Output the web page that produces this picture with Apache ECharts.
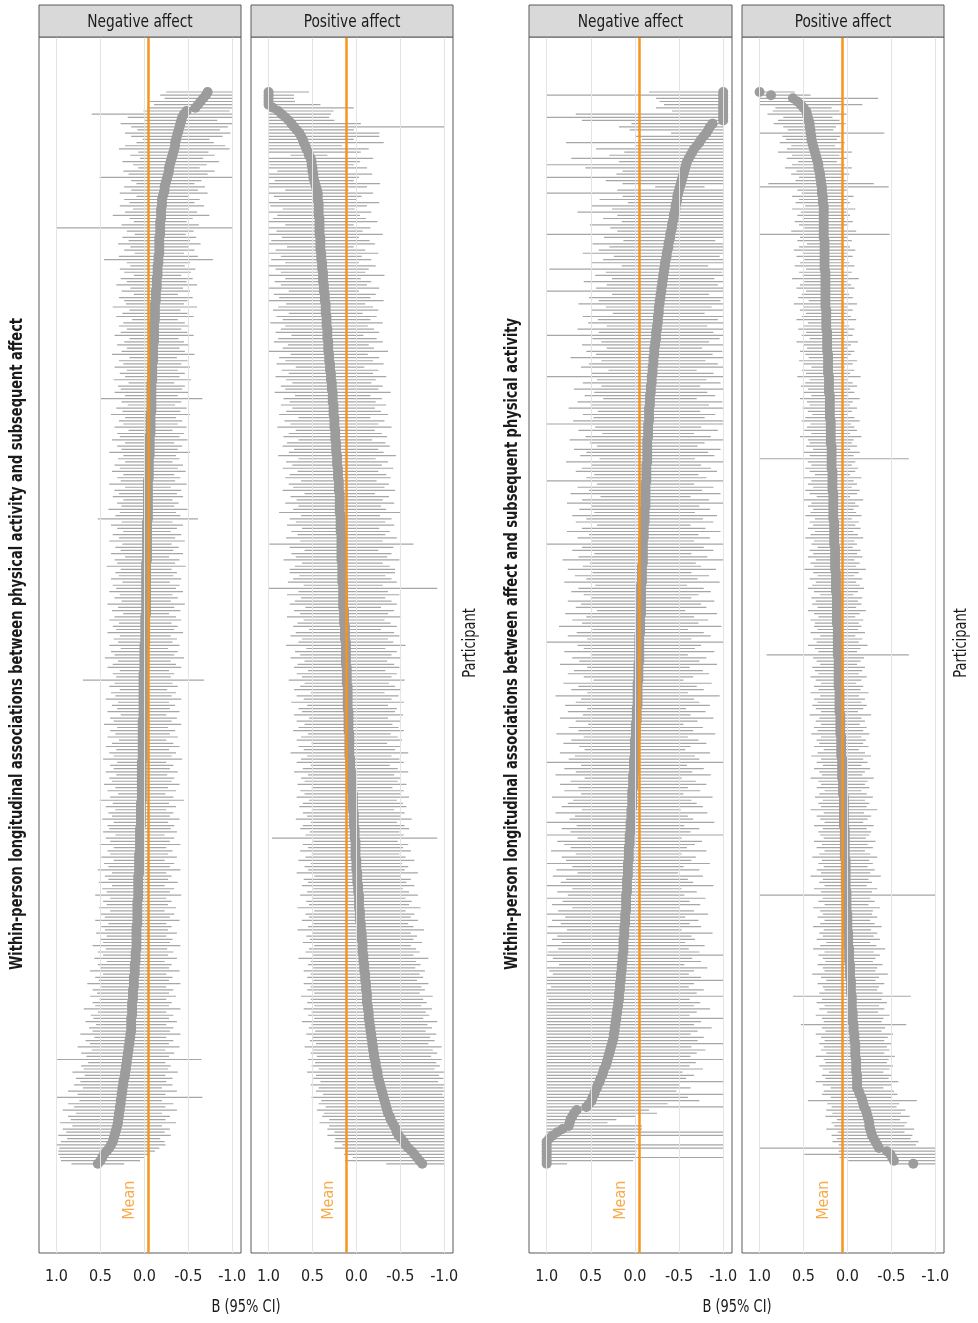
<!DOCTYPE html>
<html>
<head>
<meta charset="utf-8">
<script src="https://cdn.jsdelivr.net/npm/echarts@6/dist/echarts.min.js"></script>
<style>
  html, body { margin: 0; padding: 0; background: #fff; }
  #chart { width: 978px; height: 1323px; }
</style>
</head>
<body>
<div id="chart"></div>
<script>
// facet strips, axis titles, ticks
const facetLabels = ['Negative affect', 'Positive affect', 'Negative affect', 'Positive affect'];
const yTitles = [
  'Within-person longitudinal associations between physical activity and subsequent affect',
  'Within-person longitudinal associations between affect and subsequent physical activity'
];
const xTitle = 'B (95% CI)';
const rowTitle = 'Participant';
const bTicks = [1.0, 0.5, 0.0, -0.5, -1.0];
const meanB = [-0.04, 0.11, -0.05, 0.06];

// participant estimates (top row first) and CI half-widths
// panel 1: physical activity -> negative affect
const negPaEst = [
  -0.72, -0.70, -0.67, -0.64, -0.61, -0.58, -0.48, -0.45,
  -0.43, -0.42, -0.41, -0.40, -0.39, -0.38, -0.37,
  -0.36, -0.35, -0.35, -0.34, -0.33, -0.32, -0.31,
  -0.30, -0.29, -0.28, -0.28, -0.27, -0.26, -0.25,
  -0.24, -0.23, -0.23, -0.22, -0.21, -0.20, -0.20,
  -0.20, -0.19, -0.19, -0.19, -0.19, -0.18, -0.18, -0.18, -0.18, -0.18, -0.17, -0.17, -0.17, -0.17, -0.17,
  -0.17, -0.16, -0.16, -0.16, -0.15, -0.15, -0.15, -0.15, -0.14, -0.14, -0.14, -0.14, -0.13, -0.13, -0.13, -0.13,
  -0.12, -0.12, -0.12, -0.12, -0.12, -0.12, -0.11, -0.11, -0.11, -0.11, -0.11, -0.11, -0.11,
  -0.10, -0.10, -0.10, -0.10, -0.10, -0.10, -0.09, -0.09, -0.09, -0.09, -0.09, -0.09,
  -0.08, -0.08, -0.08, -0.08, -0.08, -0.08,
  -0.08, -0.08, -0.08, -0.08, -0.07, -0.07, -0.07, -0.07, -0.07, -0.07, -0.07,
  -0.06, -0.06, -0.06, -0.06, -0.06, -0.06, -0.06, -0.05, -0.05, -0.05, -0.05, -0.05, -0.05, -0.05,
  -0.04, -0.04, -0.04, -0.04, -0.04, -0.04, -0.04,
  -0.04, -0.04, -0.04, -0.04, -0.04, -0.04,
  -0.03, -0.03, -0.03, -0.03, -0.03, -0.03, -0.03, -0.03, -0.03, -0.03, -0.03, -0.03, -0.03,
  -0.02, -0.02, -0.02, -0.02, -0.02, -0.02, -0.02, -0.02, -0.02, -0.02, -0.02, -0.02, -0.02,
  -0.02, -0.02, -0.02, -0.02, -0.01, -0.01, -0.01, -0.01, -0.01, -0.01, -0.01, -0.01, -0.01,
  0, 0, 0, 0, 0, 0, 0, 0, 0, 0.01, 0.01, 0.01, 0.01, 0.01, 0.01, 0.01, 0.01, 0.01,
  0.01, 0.01, 0.01, 0.01, 0.01, 0.01,
  0.02, 0.02, 0.02, 0.02, 0.02, 0.02, 0.02, 0.02, 0.02, 0.02, 0.02, 0.02, 0.02,
  0.03, 0.03, 0.03, 0.03, 0.03, 0.03, 0.03, 0.03, 0.03, 0.03, 0.03, 0.03, 0.03,
  0.04, 0.04, 0.04, 0.04, 0.04, 0.04, 0.04, 0.04, 0.05, 0.05, 0.05, 0.05, 0.05, 0.05, 0.05, 0.05,
  0.06, 0.06, 0.06, 0.06, 0.06, 0.06, 0.06, 0.07, 0.07, 0.07, 0.07, 0.07, 0.07, 0.07, 0.07,
  0.08, 0.08, 0.08, 0.08, 0.08, 0.08, 0.08, 0.08, 0.09, 0.09, 0.09, 0.09, 0.09, 0.09, 0.09, 0.09,
  0.10, 0.10, 0.10, 0.10, 0.11, 0.11, 0.11, 0.11, 0.12, 0.12, 0.12, 0.12, 0.13, 0.13, 0.13, 0.13,
  0.14, 0.14, 0.14, 0.14, 0.14, 0.15, 0.15, 0.15, 0.15, 0.15,
  0.16, 0.16, 0.17, 0.17, 0.18, 0.18,
  0.19, 0.19, 0.20, 0.20, 0.21, 0.21, 0.22, 0.22, 0.23,
  0.24, 0.24, 0.25, 0.25, 0.26, 0.26, 0.27,
  0.27, 0.28, 0.28, 0.29, 0.29, 0.30, 0.30, 0.31, 0.32,
  0.33, 0.34, 0.35, 0.36, 0.38, 0.40, 0.43, 0.46, 0.48, 0.50, 0.53
];
const negPaHw = [
  0.47, 0.52, 0.44, 0.58, 0.50, 0.55, 0.49, 1.05, 0.62, 0.41, 0.68, 0.55, 0.47, 0.60, 0.52, 0.38, 0.44, 0.57, 0.63, 0.40,
  0.48, 0.36, 0.55, 0.42, 0.35, 0.52, 0.45, 0.77, 0.40, 0.33, 0.46, 0.38, 0.50, 0.30, 0.43, 0.37, 0.48, 0.32, 0.41, 0.55,
  0.36, 0.30, 0.44, 1.20, 0.38, 0.29, 0.42, 0.35, 0.47, 0.33, 0.40, 0.28, 0.45, 0.62, 0.36, 0.31, 0.43, 0.38, 0.27, 0.41,
  0.34, 0.46, 0.30, 0.39, 0.25, 0.42, 0.36, 0.33, 0.48, 0.29, 0.37, 0.44, 0.26, 0.35, 0.40, 0.31, 0.38, 0.45, 0.28, 0.34,
  0.41, 0.30, 0.36, 0.47, 0.27, 0.39, 0.33, 0.43, 0.29, 0.37, 0.31, 0.44, 0.26, 0.38, 0.35, 0.42, 0.30, 0.58, 0.34, 0.27,
  0.40, 0.33, 0.45, 0.29, 0.36, 0.31, 0.41, 0.25, 0.38, 0.34, 0.43, 0.28, 0.37, 0.32, 0.46, 0.30, 0.35, 0.27, 0.39, 0.33,
  0.42, 0.29, 0.36, 0.31, 0.44, 0.26, 0.38, 0.33, 0.40, 0.28, 0.35, 0.30, 0.45, 0.32, 0.37, 0.57, 0.29, 0.41, 0.34, 0.27,
  0.39, 0.32, 0.43, 0.28, 0.36, 0.30, 0.41, 0.25, 0.37, 0.33, 0.45, 0.29, 0.35, 0.31, 0.40, 0.27, 0.38, 0.34, 0.42, 0.30,
  0.36, 0.28, 0.44, 0.32, 0.39, 0.26, 0.35, 0.41, 0.30, 0.37, 0.33, 0.43, 0.29, 0.36, 0.31, 0.40, 0.27, 0.38, 0.34, 0.45,
  0.30, 0.36, 0.42, 0.28, 0.35, 0.31, 0.69, 0.33, 0.39, 0.27, 0.37, 0.32, 0.43, 0.29, 0.36, 0.30, 0.41, 0.26, 0.38, 0.33,
  0.44, 0.29, 0.37, 0.31, 0.40, 0.27, 0.35, 0.42, 0.30, 0.38, 0.33, 0.45, 0.28, 0.36, 0.32, 0.41, 0.29, 0.37, 0.34, 0.43,
  0.30, 0.39, 0.27, 0.36, 0.48, 0.32, 0.40, 0.29, 0.37, 0.33, 0.44, 0.31, 0.38, 0.35, 0.42, 0.28, 0.39, 0.34, 0.46, 0.30,
  0.37, 0.33, 0.43, 0.29, 0.40, 0.35, 0.47, 0.31, 0.38, 0.34, 0.45, 0.30, 0.41, 0.36, 0.49, 0.32, 0.39, 0.35, 0.44, 0.31,
  0.42, 0.37, 0.48, 0.33, 0.40, 0.36, 0.46, 0.34, 0.41, 0.38, 0.50, 0.35, 0.43, 0.37, 0.47, 0.33, 0.42, 0.39, 0.51, 0.36,
  0.44, 0.40, 0.53, 0.37, 0.46, 0.41, 0.49, 0.38, 0.45, 0.42, 0.55, 0.39, 0.47, 0.43, 0.52, 0.40, 0.48, 0.44, 0.57, 0.41,
  0.50, 0.45, 0.58, 0.42, 0.53, 0.47, 0.85, 0.44, 0.51, 0.48, 0.60, 0.46, 0.55, 0.49, 0.56, 0.45, 0.62, 0.50, 0.92, 0.47,
  0.60, 0.52, 0.65, 0.49, 0.58, 0.54, 0.66, 0.51, 0.61, 0.56, 0.64, 0.53, 0.59, 0.62, 0.57, 0.55, 0.52, 0.48, 0.45, 0.30
];

// panel 2: physical activity -> positive affect
const posPaEst = [
  1, 1, 1, 1, 1,
  0.95, 0.89, 0.85, 0.81, 0.77, 0.74, 0.71, 0.68, 0.65,
  0.63, 0.61, 0.60, 0.58, 0.57, 0.55, 0.54, 0.52,
  0.51, 0.51, 0.50, 0.50, 0.49, 0.49, 0.48, 0.47, 0.46, 0.45, 0.44,
  0.44, 0.44, 0.43, 0.43, 0.43,
  0.43, 0.43, 0.42, 0.42, 0.42, 0.42, 0.42, 0.42, 0.41, 0.41, 0.41, 0.41, 0.41,
  0.40, 0.40, 0.40, 0.39, 0.39, 0.39, 0.38, 0.38, 0.38, 0.38, 0.37, 0.37, 0.37, 0.36, 0.36, 0.36,
  0.35, 0.35, 0.35, 0.35, 0.34, 0.34, 0.34, 0.34, 0.33, 0.33, 0.33, 0.33, 0.32, 0.32, 0.32, 0.32,
  0.31, 0.31, 0.31, 0.30, 0.30, 0.30, 0.29, 0.29, 0.29, 0.28, 0.28, 0.28, 0.27, 0.27, 0.27,
  0.27, 0.26, 0.26, 0.26, 0.26, 0.25, 0.25, 0.25, 0.25, 0.24, 0.24, 0.24, 0.24, 0.23, 0.23, 0.23,
  0.23, 0.22, 0.22, 0.22, 0.22, 0.21, 0.21, 0.21, 0.21, 0.20, 0.20, 0.20, 0.20, 0.19, 0.19, 0.19,
  0.19, 0.19, 0.19, 0.19, 0.18, 0.18, 0.18, 0.18, 0.18, 0.18, 0.17, 0.17, 0.17, 0.17, 0.17, 0.17,
  0.17, 0.17, 0.17, 0.16, 0.16, 0.16, 0.16, 0.16, 0.16, 0.16, 0.15, 0.15, 0.15, 0.15, 0.15, 0.15,
  0.15, 0.15, 0.14, 0.14, 0.14, 0.14, 0.14, 0.13, 0.13, 0.13, 0.13, 0.13, 0.12, 0.12, 0.12, 0.12,
  0.12, 0.12, 0.12, 0.12, 0.11, 0.11, 0.11, 0.11, 0.11, 0.11, 0.10, 0.10, 0.10, 0.10, 0.10,
  0.10, 0.10, 0.10, 0.09, 0.09, 0.09, 0.09, 0.09, 0.09, 0.09, 0.08, 0.08, 0.08, 0.08, 0.08, 0.08,
  0.08, 0.08, 0.07, 0.07, 0.07, 0.07, 0.06, 0.06, 0.06, 0.06, 0.05, 0.05, 0.05, 0.04, 0.04, 0.04,
  0.04, 0.04, 0.04, 0.03, 0.03, 0.03, 0.03, 0.03, 0.02, 0.02, 0.02, 0.02, 0.01, 0.01, 0.01, 0.01,
  0.01, 0.01, 0, 0, 0, 0, -0.01, -0.01, -0.01, -0.01, -0.02, -0.02, -0.02, -0.03, -0.03, -0.03,
  -0.03, -0.03, -0.04, -0.04, -0.04, -0.04, -0.05, -0.05, -0.05, -0.06, -0.06, -0.06, -0.07, -0.07, -0.07,
  -0.07, -0.08, -0.08, -0.08, -0.09, -0.09, -0.09, -0.10, -0.10, -0.10, -0.11, -0.11, -0.11, -0.12, -0.12, -0.12,
  -0.12, -0.13, -0.13, -0.14, -0.14, -0.14, -0.15, -0.15, -0.16, -0.16, -0.17, -0.17, -0.18, -0.18, -0.19, -0.19,
  -0.20, -0.20, -0.21, -0.22, -0.22, -0.23, -0.24, -0.24, -0.25,
  -0.26, -0.27, -0.28, -0.29, -0.30, -0.31, -0.32,
  -0.33, -0.34, -0.35, -0.36, -0.38, -0.39,
  -0.41, -0.43, -0.45, -0.46, -0.48, -0.51, -0.54, -0.56, -0.59, -0.63, -0.66, -0.69, -0.72, -0.75
];
const posPaHw = [
  0.46, 0.29, 0.29, 0.30, 0.59, 0.92, 0.63, 0.56, 0.50, 0.52, 0.79, 1.80, 0.65, 0.91, 0.89, 0.58, 0.91, 0.42, 0.71, 0.60,
  0.21, 0.71, 0.55, 0.48, 0.62, 0.40, 0.67, 0.52, 0.45, 0.74, 0.58, 0.36, 0.63, 0.50, 0.44, 0.69, 0.55, 0.41, 0.60, 0.47,
  0.53, 0.66, 0.39, 0.58, 0.49, 0.72, 0.44, 0.56, 0.62, 0.38, 0.51, 0.65, 0.46, 0.57, 0.42, 0.61, 0.53, 0.48, 0.70, 0.43,
  0.55, 0.49, 0.63, 0.40, 0.58, 0.52, 0.67, 0.45, 0.54, 0.60, 0.42, 0.57, 0.50, 0.64, 0.47, 0.53, 0.59, 0.41, 0.56, 0.62,
  0.46, 0.52, 0.68, 0.44, 0.57, 0.50, 0.61, 0.39, 0.55, 0.48, 0.63, 0.51, 0.45, 0.58, 0.53, 0.66, 0.43, 0.56, 0.49, 0.60,
  0.47, 0.54, 0.62, 0.41, 0.57, 0.50, 0.65, 0.45, 0.53, 0.59, 0.42, 0.56, 0.61, 0.48, 0.54, 0.67, 0.44, 0.58, 0.51, 0.63,
  0.46, 0.55, 0.60, 0.43, 0.57, 0.52, 0.64, 0.40, 0.56, 0.49, 0.62, 0.47, 0.53, 0.69, 0.45, 0.58, 0.51, 0.61, 0.44, 0.56,
  0.50, 0.63, 0.47, 0.82, 0.59, 0.42, 0.57, 0.52, 0.66, 0.46, 0.54, 0.60, 0.60, 0.49, 0.56, 0.62, 0.45, 1.07, 0.51, 0.64,
  0.48, 0.55, 0.61, 0.43, 0.57, 0.50, 0.65, 0.46, 0.53, 0.59, 0.41, 0.56, 0.62, 0.49, 0.54, 0.68, 0.45, 0.58, 0.52, 0.63,
  0.47, 0.55, 0.60, 0.44, 0.57, 0.51, 0.66, 0.48, 0.54, 0.61, 0.42, 0.58, 0.50, 0.64, 0.46, 0.56, 0.53, 0.62, 0.45, 0.59,
  0.50, 0.57, 0.63, 0.47, 0.55, 0.60, 0.43, 0.58, 0.52, 0.67, 0.48, 0.56, 0.61, 0.45, 0.54, 0.65, 0.49, 0.57, 0.53, 0.62,
  0.46, 0.59, 0.55, 0.64, 0.50, 0.57, 0.61, 0.47, 0.58, 0.53, 0.66, 0.49, 0.58, 0.62, 0.51, 0.56, 0.94, 0.48, 0.60, 0.54,
  0.63, 0.50, 0.57, 0.66, 0.52, 0.59, 0.55, 0.69, 0.49, 0.61, 0.56, 0.64, 0.51, 0.58, 0.67, 0.53, 0.60, 0.57, 0.70, 0.52,
  0.62, 0.58, 0.66, 0.54, 0.60, 0.72, 0.56, 0.63, 0.59, 0.68, 0.55, 0.61, 0.65, 0.57, 0.74, 0.60, 0.64, 0.58, 0.69, 0.62,
  0.66, 0.59, 0.71, 0.63, 0.67, 0.60, 0.75, 0.64, 0.68, 0.61, 0.73, 0.65, 0.69, 0.62, 0.77, 0.66, 0.70, 0.63, 0.74, 0.67,
  0.71, 0.64, 0.78, 0.68, 0.72, 0.65, 0.76, 0.69, 0.73, 0.66, 0.80, 0.70, 0.74, 0.67, 0.79, 0.71, 0.75, 0.68, 0.82, 0.72,
  0.76, 0.69, 0.80, 0.73, 0.77, 0.70, 0.83, 0.74, 0.78, 0.71, 0.81, 0.75, 0.79, 0.72, 0.84, 0.76, 0.80, 0.73, 0.85, 0.41
];

// panel 3: negative affect -> physical activity
const negAfEst = [
  -1, -1, -1, -1, -1, -1, -1, -1, -1, -1,
  -0.88, -0.85, -0.83, -0.81, -0.78, -0.75, -0.73, -0.70, -0.67, -0.65,
  -0.63, -0.61, -0.59, -0.58, -0.57, -0.56, -0.55, -0.54, -0.53, -0.52, -0.51, -0.50,
  -0.49, -0.48, -0.48, -0.47,
  -0.46, -0.46, -0.45, -0.44, -0.44, -0.43, -0.42, -0.42, -0.41,
  -0.40, -0.40, -0.39, -0.38, -0.38, -0.37, -0.36, -0.36, -0.35,
  -0.34, -0.34, -0.33, -0.33, -0.32, -0.32, -0.31, -0.31, -0.30, -0.30, -0.29, -0.29, -0.28,
  -0.28, -0.27, -0.27, -0.27, -0.26, -0.26, -0.26, -0.25, -0.25, -0.24, -0.24, -0.24, -0.23, -0.23, -0.22, -0.22,
  -0.22, -0.21, -0.21, -0.21, -0.20, -0.20, -0.20, -0.19, -0.19, -0.19, -0.18, -0.18, -0.18, -0.17, -0.17,
  -0.17, -0.17, -0.16, -0.16, -0.16, -0.16, -0.16, -0.15, -0.15, -0.15, -0.15, -0.15, -0.14, -0.14, -0.14, -0.14,
  -0.14, -0.14, -0.14, -0.14, -0.13, -0.13, -0.13, -0.13, -0.13, -0.13, -0.12, -0.12, -0.12, -0.12, -0.12, -0.12,
  -0.12, -0.12, -0.11, -0.11, -0.11, -0.11, -0.11, -0.10, -0.10, -0.10, -0.10, -0.10, -0.09, -0.09, -0.09, -0.09,
  -0.09, -0.09, -0.09, -0.09, -0.08, -0.08, -0.08, -0.08, -0.08, -0.08, -0.07, -0.07, -0.07, -0.07, -0.07, -0.07,
  -0.07, -0.07, -0.07, -0.07, -0.06, -0.06, -0.06, -0.06, -0.06, -0.06, -0.05, -0.05, -0.05, -0.05, -0.05, -0.05,
  -0.05, -0.05, -0.05, -0.04, -0.04, -0.04, -0.04, -0.04, -0.04, -0.03, -0.03, -0.03, -0.03, -0.03, -0.03,
  -0.03, -0.03, -0.02, -0.02, -0.02, -0.02, -0.02, -0.01, -0.01, -0.01, -0.01, -0.01, 0, 0, 0, 0,
  0, 0, 0.01, 0.01, 0.01, 0.01, 0.01, 0.02, 0.02, 0.02, 0.02, 0.02, 0.03, 0.03, 0.03, 0.03,
  0.03, 0.03, 0.04, 0.04, 0.04, 0.04, 0.05, 0.05, 0.05, 0.05, 0.06, 0.06, 0.06, 0.06, 0.07, 0.07,
  0.07, 0.07, 0.07, 0.08, 0.08, 0.08, 0.08, 0.08, 0.09, 0.09, 0.09, 0.09, 0.09, 0.10, 0.10, 0.10,
  0.10, 0.10, 0.10, 0.11, 0.11, 0.11, 0.11, 0.12, 0.12, 0.12, 0.12, 0.13, 0.13, 0.13, 0.13,
  0.13, 0.14, 0.14, 0.14, 0.15, 0.15, 0.15, 0.16, 0.16, 0.16, 0.17, 0.17, 0.17, 0.18, 0.18, 0.18,
  0.19, 0.19, 0.20, 0.20, 0.21, 0.21, 0.22, 0.22, 0.23, 0.23, 0.24, 0.24, 0.25,
  0.26, 0.27, 0.28, 0.29, 0.30, 0.31, 0.32, 0.33, 0.35,
  0.36, 0.37, 0.39, 0.40, 0.42, 0.43, 0.45, 0.46, 0.48, 0.49,
  0.52, 0.55, 0.66, 0.69, 0.71, 0.73, 0.74, 0.75, 0.82, 0.88, 0.93, 0.97,
  1, 1, 1, 1, 1, 1, 1, 1
];
const negAfHw = [
  0.84, 2.00, 0.76, 0.72, 0.67, 0.76, 0.58, 1.67, 2.00, 1.60, 0.92, 1.03, 0.89, 0.40, 0.77, 0.67, 1.51, 0.69, 1.11, 0.77,
  0.92, 1.33, 0.77, 1.60, 1.13, 0.70, 0.76, 1.55, 0.86, 0.66, 0.28, 0.70, 1.50, 0.62, 0.88, 0.55, 0.95, 0.72, 1.10, 0.64,
  0.80, 0.58, 0.93, 0.70, 0.61, 1.40, 0.75, 0.52, 0.86, 0.67, 0.78, 0.95, 0.60, 0.71, 0.84, 0.49, 1.30, 0.66, 0.77, 0.58,
  0.89, 0.63, 0.74, 1.35, 0.55, 0.81, 0.69, 0.92, 0.60, 0.76, 0.52, 0.85, 0.68, 0.79, 0.57, 0.90, 0.65, 1.25, 0.72, 0.61,
  0.83, 0.54, 0.77, 0.66, 0.94, 0.59, 0.73, 0.81, 0.50, 0.69, 1.30, 0.62, 0.78, 0.56, 0.87, 0.64, 0.74, 0.53, 0.82, 0.67,
  0.91, 0.58, 0.75, 0.63, 0.86, 1.20, 0.60, 0.79, 0.52, 0.71, 0.88, 0.65, 0.57, 0.83, 0.69, 0.76, 0.54, 0.92, 0.62, 0.73,
  0.80, 0.59, 0.68, 1.25, 0.55, 0.77, 0.64, 0.85, 0.51, 0.72, 0.89, 0.61, 0.74, 0.57, 0.82, 0.66, 0.78, 0.53, 0.70, 0.87,
  0.62, 0.75, 0.58, 1.20, 0.69, 0.80, 0.55, 0.73, 0.91, 0.60, 0.67, 0.84, 0.56, 0.76, 0.63, 0.88, 0.52, 0.71, 0.79, 0.65,
  0.57, 0.83, 0.68, 0.74, 0.50, 0.86, 0.61, 0.77, 0.66, 0.92, 0.54, 0.72, 0.81, 0.59, 1.15, 0.70, 0.63, 0.85, 0.55, 0.76,
  0.68, 0.89, 0.58, 0.73, 0.80, 0.62, 0.51, 0.84, 0.67, 0.75, 0.57, 0.93, 0.64, 0.70, 0.82, 0.56, 0.78, 0.61, 0.87, 0.69,
  0.54, 0.76, 0.65, 0.90, 0.59, 0.72, 0.81, 0.63, 0.57, 0.85, 0.68, 0.74, 1.10, 0.60, 0.79, 0.66, 0.88, 0.55, 0.71, 0.83,
  0.62, 0.77, 0.58, 0.91, 0.67, 0.73, 0.80, 0.56, 0.86, 0.64, 0.70, 0.95, 0.61, 0.78, 0.68, 1.15, 0.59, 0.82, 0.74, 0.66,
  0.88, 0.60, 0.76, 0.71, 0.93, 0.63, 0.81, 0.57, 0.85, 0.69, 0.75, 0.98, 0.62, 0.79, 0.66, 0.90, 0.72, 0.84, 0.61, 0.77,
  0.94, 0.68, 0.83, 0.73, 0.87, 0.65, 1.00, 0.76, 0.81, 0.70, 0.92, 0.74, 0.86, 1.25, 0.79, 0.89, 0.71, 0.97, 0.82, 0.77,
  0.91, 1.30, 0.84, 0.78, 0.95, 0.88, 1.20, 0.80, 0.93, 0.86, 1.05, 0.90, 0.83, 1.25, 0.97, 0.89, 1.10, 0.94, 0.87, 1.02,
  0.96, 1.30, 0.91, 1.08, 0.99, 0.93, 1.35, 1.01, 0.95, 1.12, 0.90, 1.04, 0.97, 1.40, 0.92, 1.06, 0.92, 1.46, 1.08, 1.22,
  0.89, 1.55, 0.82, 0.94, 0.72, 0.52, 0.43, 0.83, 0.90, 1.90, 1.95, 0.98, 1.00, 2.00, 2.00, 1.02, 1.01, 2.00, 0.98, 0.23
];

// panel 4: positive affect -> physical activity
const posAfEst = [
  1, 0.87, 0.62, 0.57, 0.53, 0.50, 0.47, 0.46, 0.45, 0.44,
  0.43, 0.43, 0.42, 0.42, 0.41, 0.41, 0.40,
  0.39, 0.38, 0.37, 0.36, 0.35, 0.34,
  0.33, 0.33, 0.32, 0.31, 0.31, 0.30,
  0.30, 0.29, 0.29, 0.29, 0.28, 0.28, 0.28, 0.27, 0.27,
  0.27, 0.27, 0.27, 0.27, 0.27, 0.27, 0.27, 0.27, 0.27,
  0.26, 0.26, 0.26, 0.26, 0.26, 0.26, 0.26, 0.26, 0.26, 0.26,
  0.25, 0.25, 0.25, 0.25, 0.25, 0.25, 0.25, 0.25, 0.25, 0.25,
  0.25, 0.25, 0.24, 0.24, 0.24, 0.24, 0.24, 0.24, 0.24, 0.23, 0.23, 0.23, 0.23, 0.23, 0.23, 0.23,
  0.22, 0.22, 0.22, 0.22, 0.22, 0.22, 0.22, 0.21, 0.21, 0.21, 0.21, 0.21, 0.21, 0.20, 0.20,
  0.20, 0.20, 0.20, 0.20, 0.20, 0.20, 0.19, 0.19, 0.19, 0.19, 0.19, 0.19, 0.19, 0.19,
  0.18, 0.18, 0.18, 0.18, 0.18, 0.18, 0.18, 0.18, 0.17, 0.17, 0.17, 0.17, 0.17, 0.17, 0.17, 0.16, 0.16, 0.16,
  0.16, 0.16, 0.16, 0.16, 0.16, 0.16, 0.15, 0.15, 0.15, 0.15, 0.15, 0.15, 0.15, 0.15,
  0.14, 0.14, 0.14, 0.14, 0.14, 0.14, 0.14, 0.14, 0.13, 0.13, 0.13, 0.13, 0.13, 0.13, 0.13, 0.12, 0.12, 0.12,
  0.12, 0.12, 0.12, 0.12, 0.12, 0.12, 0.12, 0.11, 0.11, 0.11, 0.11, 0.11, 0.11, 0.11, 0.11, 0.11, 0.11,
  0.10, 0.10, 0.10, 0.10, 0.10, 0.10, 0.10, 0.10, 0.10, 0.10, 0.09, 0.09, 0.09, 0.09,
  0.09, 0.09, 0.09, 0.09, 0.08, 0.08, 0.08, 0.08, 0.08, 0.08, 0.08, 0.07, 0.07, 0.07, 0.07, 0.07, 0.07, 0.07,
  0.06, 0.06, 0.06, 0.06, 0.06, 0.06, 0.06, 0.05, 0.05, 0.05, 0.05, 0.05, 0.04, 0.04,
  0.04, 0.04, 0.04, 0.04, 0.04, 0.04, 0.04, 0.04, 0.03, 0.03, 0.03, 0.03, 0.03, 0.03, 0.03, 0.03, 0.03, 0.03,
  0.02, 0.02, 0.02, 0.02, 0.02, 0.02, 0.02, 0.02, 0.02, 0.02, 0.01, 0.01, 0.01, 0.01,
  0.01, 0.01, 0.01, 0, 0, 0, 0, 0, 0, -0.01, -0.01, -0.01, -0.01, -0.01,
  -0.02, -0.02, -0.02, -0.02, -0.02, -0.03, -0.03, -0.03, -0.03, -0.03, -0.04, -0.04, -0.04, -0.04, -0.04, -0.05, -0.05,
  -0.05, -0.05, -0.05, -0.06, -0.06, -0.06, -0.06, -0.07, -0.07, -0.07, -0.08, -0.08, -0.08, -0.09, -0.09, -0.09,
  -0.09, -0.09, -0.10, -0.10, -0.10, -0.10, -0.10, -0.11, -0.11, -0.11, -0.11, -0.11,
  -0.13, -0.14, -0.16, -0.17, -0.18, -0.19, -0.21, -0.22, -0.23, -0.24,
  -0.25, -0.25, -0.26, -0.27, -0.28, -0.30,
  -0.32, -0.34, -0.36, -0.45, -0.49, -0.51, -0.53, -0.75
];
const posAfHw = [
  0.40, 0.45, 0.97, 0.50, 0.70, 0.32, 0.38, 0.45, 0.28, 0.35, 0.41, 0.30, 0.26, 0.84, 0.33, 0.29, 0.37, 0.25, 0.31, 0.42,
  0.27, 0.34, 0.22, 0.30, 0.38, 0.26, 0.33, 0.24, 0.29, 0.60, 0.76, 0.28, 0.23, 0.35, 0.27, 0.31, 0.21, 0.36, 0.26, 0.30,
  0.24, 0.33, 0.28, 0.22, 0.37, 0.75, 0.27, 0.31, 0.20, 0.29, 0.35, 0.25, 0.32, 0.23, 0.28, 0.34, 0.21, 0.30, 0.26, 0.38,
  0.24, 0.29, 0.33, 0.22, 0.27, 0.31, 0.19, 0.36, 0.25, 0.30, 0.23, 0.28, 0.34, 0.21, 0.26, 0.32, 0.24, 0.29, 0.20, 0.35,
  0.27, 0.23, 0.31, 0.26, 0.22, 0.33, 0.28, 0.19, 0.30, 0.25, 0.36, 0.22, 0.27, 0.32, 0.24, 0.29, 0.21, 0.34, 0.26, 0.23,
  0.31, 0.25, 0.20, 0.28, 0.33, 0.23, 0.27, 0.30, 0.22, 0.35, 0.26, 0.24, 0.29, 0.21, 0.32, 0.25, 0.88, 0.27, 0.23, 0.30,
  0.26, 0.20, 0.33, 0.24, 0.28, 0.22, 0.31, 0.27, 0.19, 0.34, 0.25, 0.29, 0.23, 0.26, 0.32, 0.21, 0.28, 0.24, 0.30, 0.22,
  0.27, 0.33, 0.23, 0.26, 0.20, 0.29, 0.25, 0.31, 0.22, 0.28, 0.24, 0.35, 0.26, 0.21, 0.30, 0.23, 0.27, 0.32, 0.25, 0.19,
  0.29, 0.24, 0.28, 0.22, 0.33, 0.26, 0.21, 0.30, 0.25, 0.27, 0.23, 0.31, 0.20, 0.28, 0.24, 0.34, 0.26, 0.22, 0.81, 0.29,
  0.25, 0.21, 0.30, 0.27, 0.23, 0.32, 0.26, 0.20, 0.28, 0.24, 0.33, 0.22, 0.29, 0.25, 0.31, 0.27, 0.21, 0.35, 0.24, 0.28,
  0.22, 0.30, 0.26, 0.33, 0.23, 0.28, 0.25, 0.31, 0.20, 0.27, 0.34, 0.24, 0.29, 0.22, 0.32, 0.26, 0.23, 0.36, 0.28, 0.25,
  0.30, 0.21, 0.27, 0.33, 0.24, 0.29, 0.26, 0.38, 0.23, 0.31, 0.27, 0.22, 0.34, 0.25, 0.30, 0.28, 0.24, 0.35, 0.26, 0.32,
  0.23, 0.29, 0.37, 0.27, 0.31, 0.25, 0.33, 0.28, 0.40, 0.26, 0.30, 0.24, 0.36, 0.29, 1.05, 0.27, 0.32, 0.25, 0.38, 0.30,
  0.28, 0.34, 0.26, 0.31, 0.39, 0.27, 0.33, 0.29, 0.36, 0.25, 0.32, 0.41, 0.28, 0.35, 0.30, 0.27, 0.37, 0.31, 0.29, 0.43,
  0.33, 0.28, 0.38, 0.32, 0.30, 0.36, 0.67, 0.34, 0.40, 0.31, 0.37, 0.29, 0.42, 0.35, 0.33, 0.60, 0.36, 0.32, 0.44, 0.38,
  0.34, 0.41, 0.36, 0.39, 0.33, 0.45, 0.37, 0.35, 0.42, 0.38, 0.31, 0.40, 0.36, 0.47, 0.39, 0.30, 0.40, 0.43, 0.35, 0.62,
  0.41, 0.37, 0.45, 0.39, 0.48, 0.36, 0.43, 0.40, 0.50, 0.38, 0.46, 0.42, 0.49, 0.44, 1.40, 0.55, 0.98, 0.60, 0.52, 0.25
];

const panels = [
  { est: negPaEst, hw: negPaHw },
  { est: posPaEst, hw: posPaHw },
  { est: negAfEst, hw: negAfHw },
  { est: posAfEst, hw: posAfHw }
];

const FONT = "'Liberation Sans Narrow', 'DejaVu Sans Condensed', 'Noto Sans', sans-serif";
const ORANGE = '#f7941d';
const PLOT_TOP = 37, PLOT_H = 1216;
const panelBox = [[39, 202], [251, 202], [529, 203], [742, 202]];
const MEAN_LABEL_ROW = -10.5;
const NARROW = 0.85; // squeeze text toward the condensed face of the original

const chart = echarts.init(document.getElementById('chart'), null, { renderer: 'canvas' });

const grid = [], xAxis = [], yAxis = [], series = [], graphic = [];

panels.forEach((p, k) => {
  const [left, width] = panelBox[k];
  const n = p.est.length;
  grid.push({ left, top: PLOT_TOP, width, height: PLOT_H, show: true,
    borderColor: '#5a5a5a', borderWidth: 1, backgroundColor: '#fff' });
  xAxis.push({
    gridIndex: k, type: 'value', inverse: true, min: -1.1, max: 1.2,
    splitLine: { show: false }, axisLine: { show: false },
    axisTick: { show: true, customValues: bTicks, length: 4, lineStyle: { color: '#444', width: 1 } },
    axisLabel: { customValues: bTicks, formatter: v => v.toFixed(1), fontSize: 16,
      fontFamily: FONT, color: '#222', margin: 16 }
  });
  yAxis.push({ gridIndex: k, type: 'value', min: -27.2, max: n + 17.4, show: false });

  // light vertical gridlines at ticks
  series.push({
    type: 'line', xAxisIndex: k, yAxisIndex: k, data: [], silent: true, z: 1,
    markLine: { symbol: 'none', silent: true, animation: false, label: { show: false },
      lineStyle: { color: '#e4e4e4', width: 1, type: 'solid' },
      data: bTicks.map(v => ({ xAxis: v })) }
  });

  // confidence intervals
  const ci = p.est.map((e, i) => [Math.min(1, e + p.hw[i]), Math.max(-1, e - p.hw[i]), n - i]);
  series.push({
    type: 'custom', xAxisIndex: k, yAxisIndex: k, z: 2, silent: true,
    data: ci, encode: { x: [0, 1], y: 2 },
    renderItem: (params, api) => {
      const a = api.coord([api.value(0), api.value(2)]);
      const b = api.coord([api.value(1), api.value(2)]);
      return { type: 'line', shape: { x1: a[0], y1: a[1], x2: b[0], y2: b[1] },
        style: { stroke: '#a6a6a6', lineWidth: 1.2 } };
    }
  });

  // point estimates
  series.push({
    type: 'scatter', xAxisIndex: k, yAxisIndex: k, z: 3, silent: true,
    symbolSize: 10, itemStyle: { color: '#9c9c9c', opacity: 1 },
    data: p.est.map((e, i) => [Math.max(-1, Math.min(1, e)), n - i])
  });

  // mean line and its label
  series.push({
    type: 'scatter', xAxisIndex: k, yAxisIndex: k, z: 4, silent: true,
    symbolSize: 1, itemStyle: { color: 'rgba(0,0,0,0)' },
    data: [[meanB[k], MEAN_LABEL_ROW]],
    label: { show: true, formatter: 'Mean', rotate: 90, position: 'inside', offset: [0, -18],
      color: ORANGE, fontSize: 16, fontFamily: FONT },
    markLine: { symbol: 'none', silent: true, animation: false, label: { show: false },
      lineStyle: { color: ORANGE, width: 2.5, type: 'solid' },
      data: [{ xAxis: meanB[k] }] }
  });

  // facet strip
  graphic.push({ type: 'rect', shape: { x: left, y: 5, width, height: 32 },
    style: { fill: '#d9d9d9', stroke: '#5a5a5a', lineWidth: 1 }, z: 10 });
  graphic.push({ type: 'text', x: left + width / 2, y: 22, z: 11, scaleX: NARROW,
    style: { text: facetLabels[k], fontSize: 18, fontFamily: FONT, fill: '#1a1a1a',
      textAlign: 'center', textVerticalAlign: 'middle', align: 'center', verticalAlign: 'middle' } });
});

const sideText = (txt, x, y, bold) => ({
  type: 'text', x, y, rotation: Math.PI / 2, scaleX: NARROW, z: 11,
  style: { text: txt, fontSize: 17, fontWeight: bold ? 'bold' : 'normal', fontFamily: FONT, fill: '#1a1a1a',
    textAlign: 'center', textVerticalAlign: 'middle', align: 'center', verticalAlign: 'middle' }
});
graphic.push(sideText(yTitles[0], 18, 644, true));
graphic.push(sideText(yTitles[1], 513, 644, true));
graphic.push(sideText(rowTitle, 471, 643, false));
graphic.push(sideText(rowTitle, 962, 643, false));

const bottomText = (x) => ({
  type: 'text', x, y: 1308, z: 11, scaleX: NARROW,
  style: { text: xTitle, fontSize: 17, fontFamily: FONT, fill: '#1a1a1a',
    textAlign: 'center', textVerticalAlign: 'middle', align: 'center', verticalAlign: 'middle' }
});
graphic.push(bottomText(246));
graphic.push(bottomText(737));

chart.setOption({
  animation: false,
  backgroundColor: '#fff',
  grid, xAxis, yAxis, series, graphic
});
</script>
</body>
</html>
